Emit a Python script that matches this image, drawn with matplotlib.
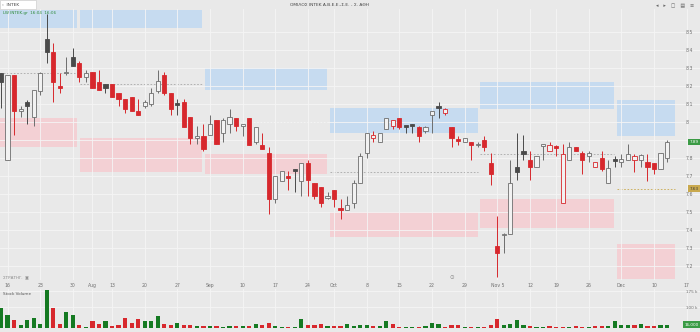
import numpy as np
import matplotlib.pyplot as plt
from matplotlib.patches import Rectangle
from matplotlib.transforms import blended_transform_factory

# daily candles (price in EUR)
opens = [
    8.27, 7.79, 8.26, 8.06, 8.11, 8.03, 8.17, 8.46, 8.39, 8.20,
    8.27, 8.36, 8.33, 8.25, 8.28, 8.22, 8.21, 8.21, 8.16, 8.13,
    8.14, 8.06, 8.09, 8.10, 8.17, 8.26, 8.16, 8.105, 8.11, 8.03,
    7.91, 7.92, 7.93, 8.01, 7.94, 7.99, 8.02, 7.98, 8.02, 7.89,
    7.87, 7.83, 7.57, 7.67, 7.70, 7.74, 7.67, 7.77, 7.66, 7.64,
    7.58, 7.62, 7.52, 7.51, 7.55, 7.66, 7.83, 7.91, 7.89, 7.96,
    7.98, 8.02, 7.98, 7.99, 7.97, 7.95, 8.04, 8.09, 8.05, 7.97,
    7.905, 7.89, 7.89, 7.87, 7.90, 7.77, 7.31, 7.37, 7.38, 7.75,
    7.84, 7.79, 7.75, 7.865, 7.84, 7.865, 7.55, 7.79, 7.86, 7.83,
    7.81, 7.75, 7.80, 7.66, 7.795, 7.78, 7.79, 7.79, 7.79, 7.78,
    7.77, 7.74, 7.80]
highs = [
    8.27, 8.26, 8.26, 8.09, 8.12, 8.18, 8.28, 8.60, 8.44, 8.27,
    8.36, 8.41, 8.34, 8.29, 8.28, 8.29, 8.21, 8.21, 8.16, 8.13,
    8.14, 8.13, 8.12, 8.19, 8.29, 8.28, 8.16, 8.13, 8.13, 8.03,
    7.98, 7.99, 8.04, 8.01, 8.02, 8.07, 8.02, 7.99, 8.02, 7.97,
    7.94, 7.86, 7.70, 7.73, 7.73, 7.74, 7.77, 7.79, 7.66, 7.64,
    7.61, 7.62, 7.57, 7.59, 7.68, 7.83, 7.94, 7.95, 7.94, 8.02,
    8.01, 8.02, 7.98, 7.99, 7.98, 7.98, 8.06, 8.11, 8.08, 7.97,
    7.92, 7.91, 7.89, 7.89, 7.92, 7.83, 7.48, 7.385, 7.79, 7.94,
    7.93, 7.84, 7.81, 7.88, 7.89, 7.87, 7.88, 7.89, 7.86, 7.84,
    7.84, 7.78, 7.84, 7.79, 7.81, 7.82, 7.88, 7.82, 7.82, 7.82,
    7.77, 7.83, 7.90]
lows = [
    8.08, 7.79, 7.93, 8.03, 7.99, 7.98, 8.15, 8.33, 8.11, 8.16,
    8.26, 8.31, 8.22, 8.22, 8.19, 8.18, 8.16, 8.14, 8.09, 8.05,
    8.06, 8.04, 8.08, 8.09, 8.16, 8.15, 8.04, 8.04, 7.97, 7.88,
    7.88, 7.84, 7.93, 7.88, 7.89, 7.94, 7.95, 7.92, 7.87, 7.88,
    7.85, 7.49, 7.55, 7.67, 7.62, 7.61, 7.59, 7.59, 7.57, 7.53,
    7.57, 7.53, 7.46, 7.51, 7.52, 7.66, 7.80, 7.89, 7.89, 7.96,
    7.96, 7.96, 7.94, 7.94, 7.89, 7.94, 7.94, 8.02, 8.04, 7.86,
    7.87, 7.89, 7.79, 7.86, 7.84, 7.65, 7.14, 7.27, 7.38, 7.68,
    7.79, 7.68, 7.75, 7.79, 7.84, 7.81, 7.55, 7.79, 7.84, 7.71,
    7.78, 7.75, 7.73, 7.66, 7.75, 7.75, 7.79, 7.72, 7.75, 7.67,
    7.71, 7.74, 7.78]
closes = [
    8.22, 8.26, 8.06, 8.07, 8.09, 8.18, 8.27, 8.39, 8.22, 8.19,
    8.28, 8.31, 8.25, 8.27, 8.19, 8.18, 8.19, 8.14, 8.13, 8.07,
    8.06, 8.04, 8.11, 8.16, 8.23, 8.16, 8.07, 8.095, 7.97, 7.91,
    7.92, 7.85, 7.99, 7.88, 8.01, 8.03, 7.98, 7.99, 7.87, 7.97,
    7.85, 7.57, 7.70, 7.73, 7.69, 7.73, 7.77, 7.68, 7.59, 7.55,
    7.59, 7.57, 7.51, 7.54, 7.66, 7.81, 7.94, 7.93, 7.94, 8.02,
    8.01, 7.97, 7.975, 7.98, 7.92, 7.97, 8.06, 8.08, 8.07, 7.91,
    7.895, 7.91, 7.87, 7.88, 7.86, 7.71, 7.27, 7.38, 7.66, 7.72,
    7.82, 7.75, 7.81, 7.88, 7.87, 7.855, 7.82, 7.86, 7.84, 7.79,
    7.83, 7.78, 7.74, 7.745, 7.785, 7.795, 7.82, 7.81, 7.815, 7.75,
    7.74, 7.83, 7.89]
# volume in thousands of shares
volumes = [
    95, 63, 37, 16, 37, 47, 21, 179, 95, 21,
    74, 63, 16, 5, 32, 21, 32, 11, 16, 47,
    26, 42, 32, 32, 58, 21, 16, 26, 16, 16,
    11, 11, 11, 11, 5, 11, 11, 11, 11, 21,
    16, 26, 11, 5, 5, 5, 42, 16, 16, 21,
    11, 11, 11, 21, 11, 16, 16, 11, 11, 32,
    21, 5, 5, 5, 5, 11, 26, 21, 5, 16,
    16, 5, 5, 5, 5, 16, 42, 16, 21, 37,
    16, 11, 5, 5, 11, 5, 5, 5, 11, 5,
    5, 11, 11, 11, 32, 16, 16, 16, 21, 11,
    11, 16, 16]

# supply / demand zones and pivot for each period (candle index range)
zone_start = [-0.15, 12.1, 31.2, 50.4, 73.4, 94.3]
zone_end = [11.6, 30.8, 49.9, 73.0, 93.9, 103.2]
supply_low = [8.52, 8.52, 8.18, 7.94, 8.07, 7.92]
supply_high = [8.62, 8.62, 8.30, 8.08, 8.22, 8.12]
demand_low = [7.86, 7.72, 7.71, 7.36, 7.41, 7.13]
demand_high = [8.02, 7.91, 7.82, 7.50, 7.57, 7.32]
pivot = [8.27, 8.21, 8.00, 7.72, 7.82, 7.63]

tick_pos = [1, 6, 11, 14, 17, 22, 27, 32, 37, 42, 47, 51, 56, 61, 66, 71,
            76, 81, 85, 90, 95, 100, 105]
tick_lbl = ["16", "23", "30", "Aug", "13", "20", "27", "Sep", "10", "17", "24",
            "Oct", "8", "15", "22", "29", "Nov 5", "12", "19", "26", "Dec",
            "10", "17"]
price_ticks = [7.2, 7.3, 7.4, 7.5, 7.6, 7.7, 7.8, 7.9, 8.0, 8.1, 8.2, 8.3, 8.4, 8.5]
vol_ticks = [100, 175]

BG = '#e9e9e9'
HOLLOW_FACE = '#f2f2f2'
GRID = '#f5f5f5'
RED = '#d7282d'
DARK = '#4a4a4a'
HOLLOW = '#6e6e6e'
GREEN = '#157a22'
LBL = '#707070'

o = np.array(opens)
h = np.array(highs)
l = np.array(lows)
c = np.array(closes)
v = np.array(volumes) * 1000
idx = np.arange(len(c))

# hollow candles: filled when close < open, red when close < previous close
prev = np.r_[c[0] - 1, c[:-1]]
down_day = c < prev
filled = c < o
edge = np.where(down_day, RED, np.where(filled, DARK, HOLLOW))
face = np.where(filled, np.where(down_day, RED, DARK), HOLLOW_FACE)

fig = plt.figure(figsize=(7, 3.32), dpi=100, facecolor=BG)
ax = fig.add_axes([0, 52 / 332, 1, 271 / 332], facecolor=BG)
axv = fig.add_axes([0, 4 / 332, 1, 39 / 332], facecolor=BG)

xlim = (-0.153, 107.04)

# zones
for s, e, lo, hi in zip(zone_start, zone_end, supply_low, supply_high):
    ax.add_patch(Rectangle((s, lo), e - s, hi - lo, fc='#c6dbf0', ec='none', zorder=1))
for s, e, lo, hi in zip(zone_start, zone_end, demand_low, demand_high):
    ax.add_patch(Rectangle((s, lo), e - s, hi - lo, fc='#f3d0d4', ec='none', zorder=1))
for k, (s, e, p) in enumerate(zip(zone_start, zone_end, pivot)):
    ax.hlines(p, s, e, colors='#c9a94e' if k == len(pivot) - 1 else '#a8a8a8',
              linestyles=(0, (2, 2)), lw=0.6, zorder=1.5)

# candles
ax.vlines(idx, l, h, colors=edge, lw=0.7, zorder=2)
ax.bar(idx, np.maximum(np.abs(c - o), 0.006), bottom=np.minimum(o, c), width=0.64,
       color=face, edgecolor=edge, linewidth=0.6, zorder=3)

ax.set_xlim(*xlim)
ax.set_ylim(7.122, 8.628)
ax.set_yticks(price_ticks)
# the last-price tag covers the 7.9 label
ax.set_yticklabels(["" if abs(p - round(c[-1], 1)) < 1e-9 else
                    f"{p:.1f}".rstrip('0').rstrip('.') for p in price_ticks])
ax.set_xticks(tick_pos)
ax.set_xticklabels(tick_lbl)
ax.yaxis.tick_right()
ax.tick_params(axis='y', length=0, pad=-10, labelsize=3.3, labelcolor=LBL)
ax.tick_params(axis='x', length=0, pad=2, labelsize=3.3, labelcolor=LBL)
ax.grid(color=GRID, lw=0.6, zorder=0)
for sp in ax.spines.values():
    sp.set_visible(False)

# price tags on the right
tr = blended_transform_factory(ax.transAxes, ax.transData)
ax.text(0.998, c[-1], f"{c[-1]:.2f}", transform=tr, ha='right', va='center',
        fontsize=3.0, color='white', zorder=6,
        bbox=dict(boxstyle='square,pad=0.3', fc='#3b9b45', ec='none'))
ax.text(0.998, pivot[-1], f"{pivot[-1]:.2f}", transform=tr, ha='right', va='center',
        fontsize=3.0, color='#3a3a3a', zorder=6,
        bbox=dict(boxstyle='square,pad=0.3', fc='#c9a94e', ec='none'))

ax.text(0.004, 8.605, "LW INTEK.gr  16:04  16:06", transform=tr, fontsize=3.0,
        color='#2e8b3a', va='center', zorder=6)
ax.text(0.004, 7.135, "ΣΤΡΑΤΗΓ.  ▣", transform=tr, fontsize=3.0, color='#8a8a8a',
        va='center')
ax.text(69.0, 7.135, "⊙", fontsize=4, color='#8a8a8a', ha='center', va='center')

# volume panel
axv.bar(idx, v, width=0.64, color=np.where(down_day, RED, GREEN), zorder=3)
axv.axhline(0, color=RED, lw=0.5, ls=(0, (2, 2)), zorder=4)
axv.set_xlim(*xlim)
axv.set_ylim(0, 186000)
axv.set_xticks(tick_pos)
axv.set_xticklabels([])
axv.set_yticks([t * 1000 for t in vol_ticks])
axv.set_yticklabels([f"{t} k" for t in vol_ticks])
axv.yaxis.tick_right()
axv.tick_params(axis='y', length=0, pad=-10, labelsize=3.0, labelcolor=LBL)
axv.tick_params(axis='x', length=0)
axv.grid(color=GRID, lw=0.6, zorder=0)
for sp in axv.spines.values():
    sp.set_visible(False)
axv.text(0.004, 0.93, "Stock Volume", transform=axv.transAxes, fontsize=3.0,
         color='#555555', va='top')
trv = blended_transform_factory(axv.transAxes, axv.transData)
axv.text(0.998, v[-1], f"{v[-1]:,.0f}", transform=trv, ha='right', va='center',
         fontsize=3.0, color='white', zorder=6,
         bbox=dict(boxstyle='square,pad=0.3', fc='#3b9b45', ec='none'))

# top bar: search box, title, tool icons
fig.add_artist(Rectangle((0, 1 - 9 / 332), 36 / 700, 9 / 332, transform=fig.transFigure,
                         fc='white', ec='#cfcfcf', lw=0.5))
fig.text(2 / 700, 1 - 4.5 / 332, "‹  INTEK", fontsize=3.2, color='#444444', va='center')
fig.text(0.47, 1 - 5.5 / 332, "ΟΜΙΛΟΣ ΙΝΤΕΚ Α.Β.Ε.Ε.,Σ.Ε. - Σ. ΑΘΗ", fontsize=3.2,
         color='#444444', ha='center', va='center')
fig.text(0.992, 1 - 5.5 / 332, "◂   ▸   ▢   ▤   ≡", fontsize=3.6, color='#666666',
         ha='right', va='center')

fig.savefig('out.png', dpi=100, facecolor=BG)
